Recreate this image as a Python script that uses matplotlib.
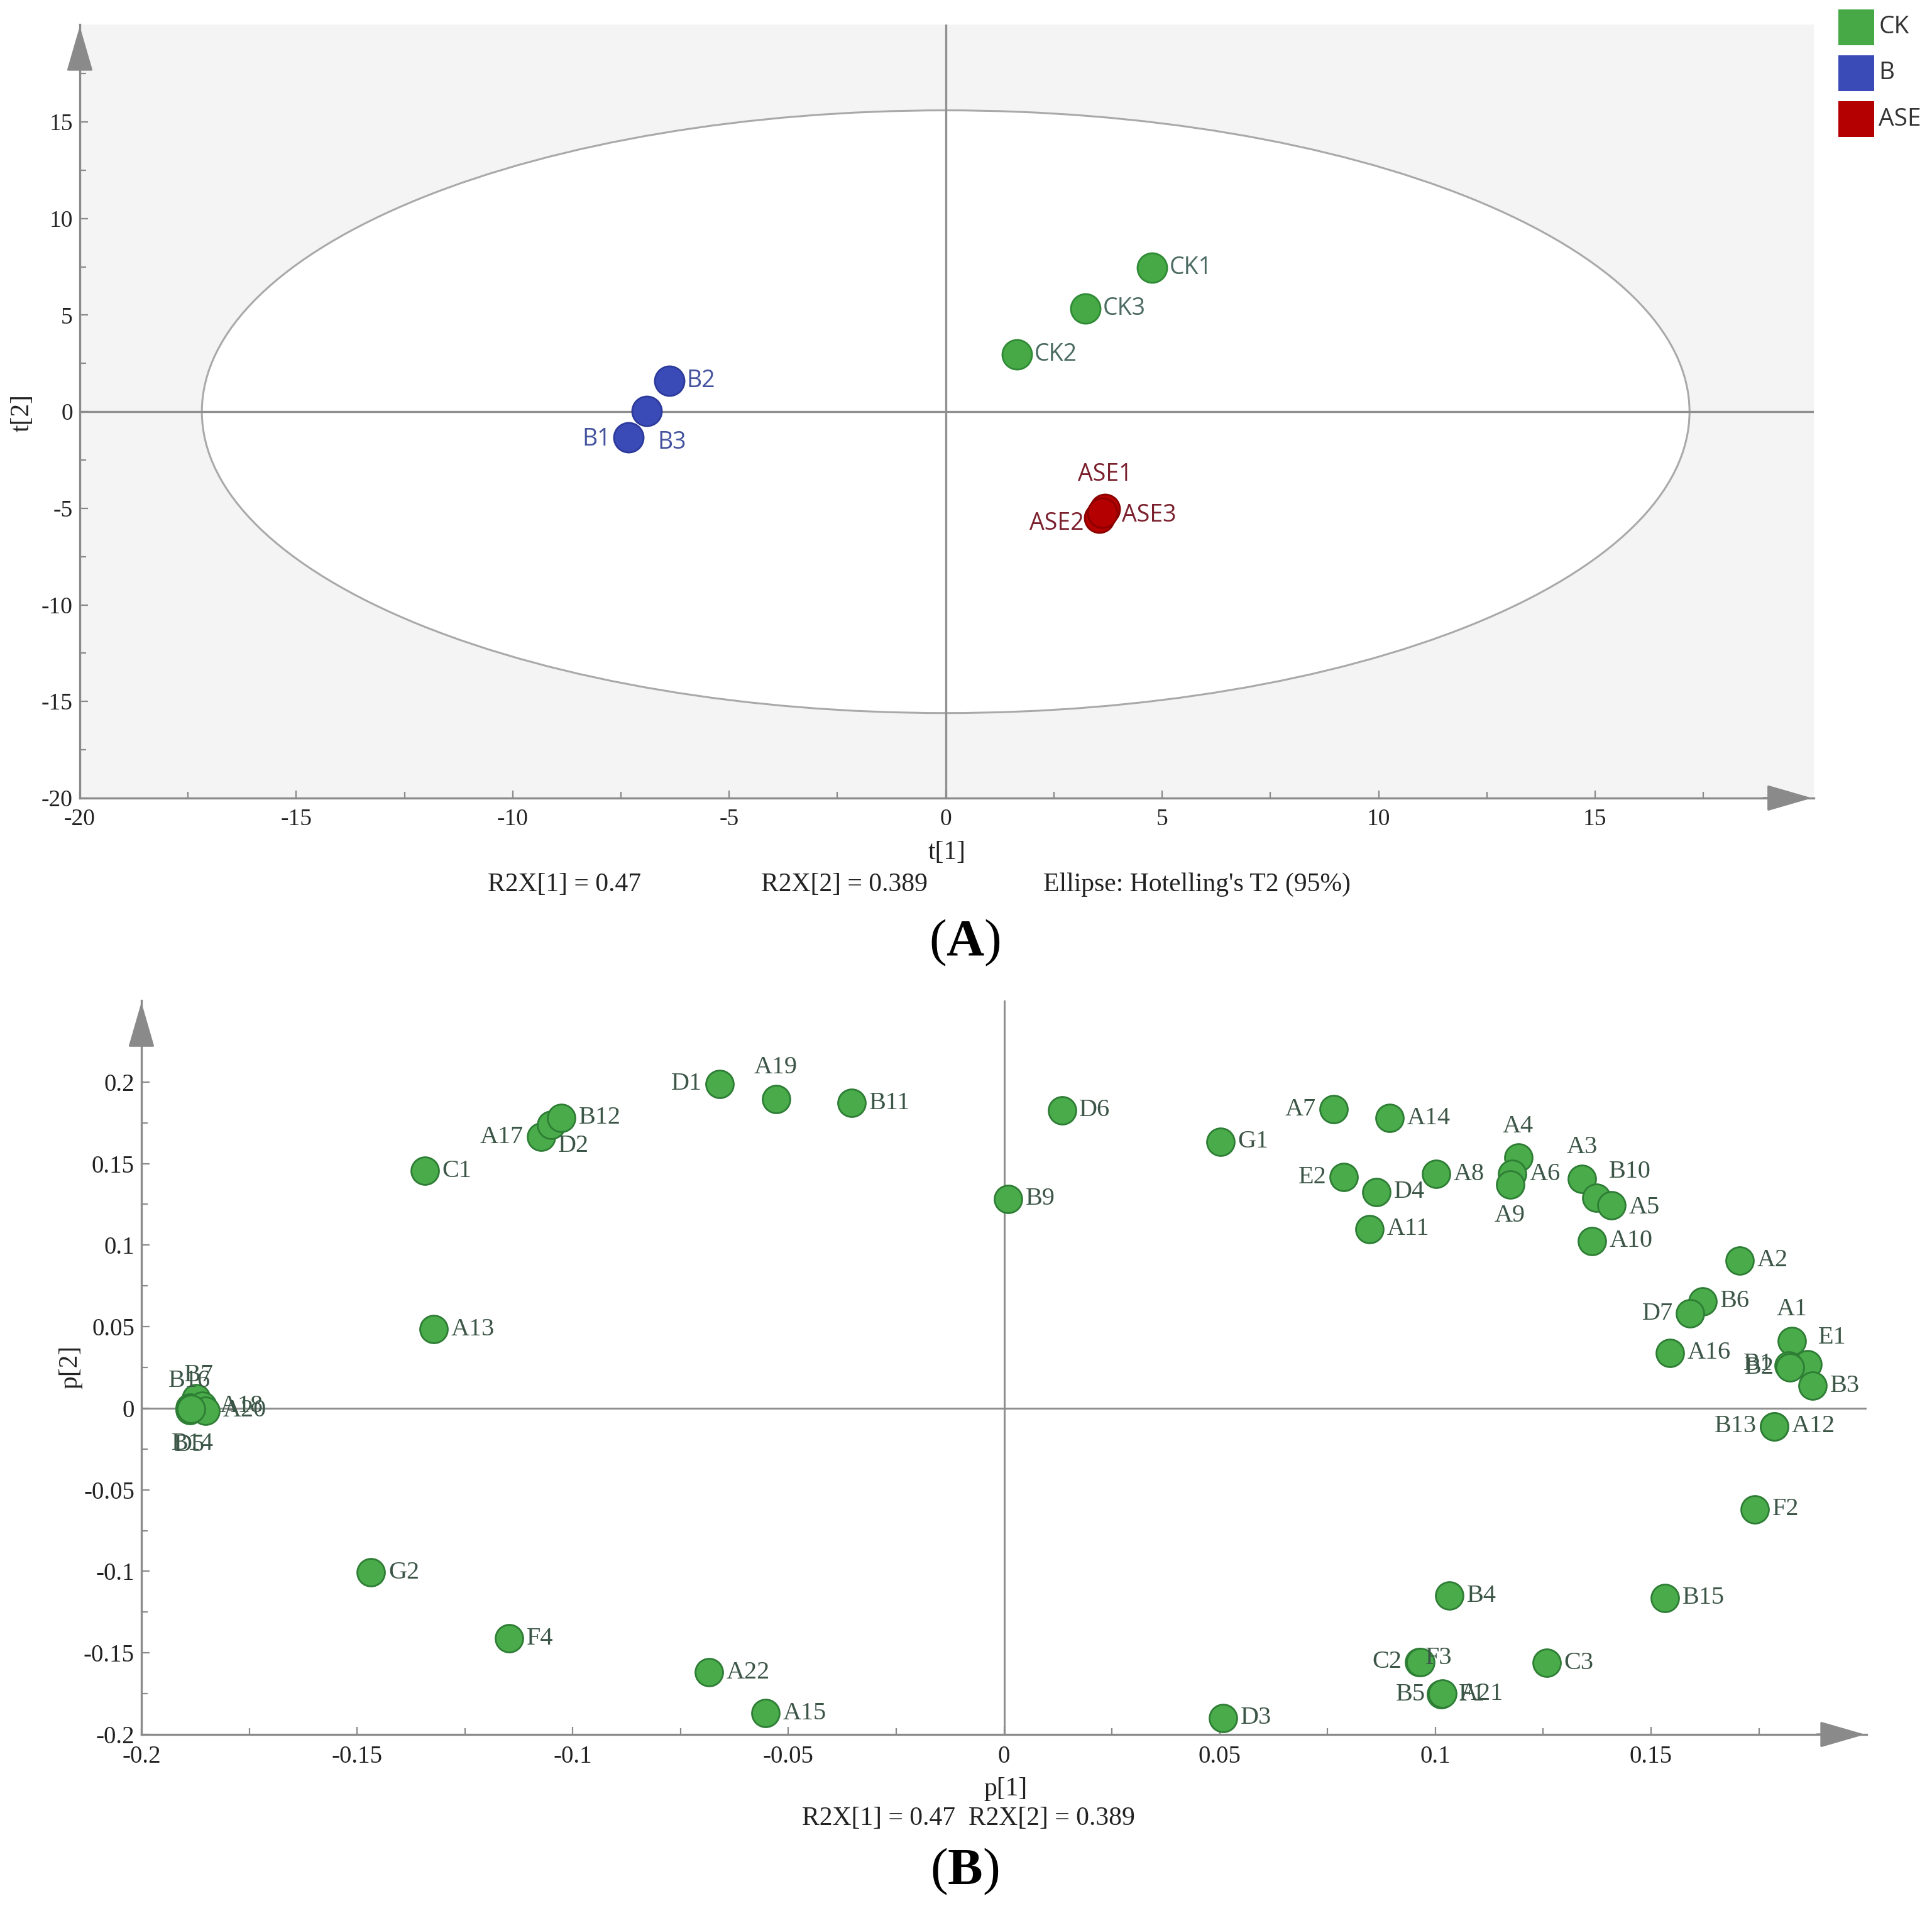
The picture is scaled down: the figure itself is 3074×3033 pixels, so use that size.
import numpy as np
import matplotlib
matplotlib.use("Agg")
import matplotlib.pyplot as plt
from matplotlib.patches import Ellipse, Rectangle
from matplotlib.ticker import FuncFormatter

plt.rcParams['axes.unicode_minus'] = False
plt.rcParams['mathtext.fontset'] = 'custom'
plt.rcParams['mathtext.rm'] = 'Liberation Serif'
plt.rcParams['mathtext.bf'] = 'Liberation Serif:bold'

# ---------------- data: panel A (scores) ----------------
score_names = ["CK1", "CK2", "CK3", "B1", "B2", "B3", "ASE1", "ASE2", "ASE3"]
score_group = ["CK", "CK", "CK", "B", "B", "B", "ASE", "ASE", "ASE"]
t1 = [4.77, 1.65, 3.22, -7.33, -6.39, -6.90, 3.68, 3.54, 3.62]
t2 = [7.46, 2.98, 5.35, -1.34, 1.59, 0.04, -5.04, -5.50, -5.24]
groups = ["CK", "B", "ASE"]
ellipse_semi_axes = [17.18, 15.6]
r2x = [0.47, 0.389]

# ---------------- data: panel B (loadings) ----------------
loading_names = ["D1", "A19", "B11", "D6", "B9", "G1", "A7", "A14", "E2", "D4",
                 "A8", "A11", "A4", "A6", "A9", "A3", "B10", "A5", "A10", "A2",
                 "B6", "D7", "A16", "A1", "E1", "B1", "B2", "B3", "B13", "A12",
                 "F2", "B15", "B4", "C3", "C2", "F3", "B5", "F1", "A21", "D3",
                 "A15", "A22", "F4", "G2", "C1", "A13", "A17", "D2", "B12",
                 "B7", "B16", "A18", "A20", "D5", "B14"]
p1 = [-0.0660, -0.0529, -0.0354, 0.0134, 0.0010, 0.0502, 0.0764, 0.0894, 0.0788, 0.0864,
      0.1002, 0.0847, 0.1192, 0.1178, 0.1173, 0.1340, 0.1374, 0.1408, 0.1363, 0.1706,
      0.1620, 0.1591, 0.1544, 0.1826, 0.1863, 0.1819, 0.1822, 0.1874, 0.1786, 0.1786,
      0.1741, 0.1532, 0.1032, 0.1258, 0.0962, 0.0965, 0.1013, 0.1013, 0.1016, 0.0508,
      -0.0553, -0.0684, -0.1147, -0.1468, -0.1343, -0.1322, -0.1074, -0.1050, -0.1026,
      -0.1873, -0.1888, -0.1859, -0.1851, -0.1888, -0.1885]
p2 = [0.1988, 0.1897, 0.1871, 0.1826, 0.1283, 0.1634, 0.1833, 0.1779, 0.1417, 0.1326,
      0.1435, 0.1098, 0.1536, 0.1435, 0.1373, 0.1406, 0.1290, 0.1243, 0.1025, 0.0906,
      0.0656, 0.0580, 0.0340, 0.0413, 0.0268, 0.0262, 0.0252, 0.0138, -0.0112, -0.0112,
      -0.0620, -0.1163, -0.1149, -0.1562, -0.1555, -0.1555, -0.1755, -0.1755, -0.1750, -0.1899,
      -0.1870, -0.1620, -0.1412, -0.1007, 0.1455, 0.0484, 0.1664, 0.1737, 0.1780,
      0.0062, 0.0005, 0.0015, -0.0015, -0.0010, -0.0005]

# ---------------- styles ----------------
group_colors = {"CK": "#46a946", "B": "#3a4bb8", "ASE": "#b40000"}
group_edges = {"CK": "#2f8a35", "B": "#2c3a9a", "ASE": "#8a0000"}
group_text = {"CK": "#4a6a62", "B": "#43539e", "ASE": "#7a1f2c"}
axis_gray = "#8a8a8a"
serif = "Liberation Serif"
sans = "Open Sans"

# label offsets (points): (dx, dy, ha)
R = (20, 0, "left"); L = (-20, 0, "right"); T = (0, 36, "center"); Bm = (0, -36, "center")
place_A = {"CK1": R, "CK2": R, "CK3": R, "B2": R, "B1": (-20, -2, "right"),
           "B3": (12, -36, "left"), "ASE1": (0, 40, "center"), "ASE2": (-17, -6, "right"),
           "ASE3": (22, -3, "left")}
place_B = {"D1": L, "A19": T, "A7": L, "E2": L, "A4": T, "A9": Bm, "A3": T,
           "B10": (14, 30, "left"), "D7": L, "A1": T, "E1": (12, 31, "left"),
           "B1": (-18, 2, "right"), "B2": (-18, -1, "right"), "B13": L, "C2": L,
           "F3": (6, 4, "left"), "B5": (-18, 0, "right"), "A17": L,
           "D2": (8, -24, "left"), "B7": (3, 26, "center"), "B16": (0, 30, "center"),
           "D5": (0, -40, "center"), "B14": (2, -40, "center"), "A5": (20, -2, "left")}

W, H = 3074, 3033
fig = plt.figure(figsize=(W / 100, H / 100), dpi=100)


def style_axes(ax):
    for s in ["top", "right"]:
        ax.spines[s].set_visible(False)
    for s in ["left", "bottom"]:
        ax.spines[s].set_color(axis_gray)
        ax.spines[s].set_linewidth(2.4)
    ax.tick_params(which="both", direction="in", color=axis_gray, width=1.6)
    ax.tick_params(which="major", length=9)
    ax.tick_params(which="minor", length=7)
    ax.tick_params(axis="x", pad=12)
    ax.tick_params(axis="y", pad=8)
    for lab in ax.get_xticklabels() + ax.get_yticklabels():
        lab.set_fontfamily(serif)
    # arrow heads
    ax.annotate("", xy=(0, 1.0), xytext=(0, 0.955), xycoords="axes fraction",
                arrowprops=dict(arrowstyle="-|>,head_length=1.9,head_width=0.55",
                                color=axis_gray, lw=2.4, mutation_scale=24),
                annotation_clip=False)
    ax.annotate("", xy=(1.0, 0), xytext=(0.97, 0), xycoords="axes fraction",
                arrowprops=dict(arrowstyle="-|>,head_length=1.9,head_width=0.55",
                                color=axis_gray, lw=2.4, mutation_scale=24),
                annotation_clip=False)


def tick_fmt(v, p):
    if abs(v) < 1e-9:
        return "0"
    return "%g" % round(v, 6)


fmt = FuncFormatter(tick_fmt)

# ================= Panel A =================
axA = fig.add_axes([0.0413, 0.5813, 0.8975, 0.4059])
axA.set_facecolor("#f4f4f4")
axA.set_xlim(-20, 20.05)
axA.set_ylim(-20, 20.05)
axA.add_patch(Ellipse((0, 0), 2 * ellipse_semi_axes[0], 2 * ellipse_semi_axes[1],
                      facecolor="white", edgecolor="#a9a9a9", lw=2.2, zorder=0.5))
axA.axhline(0, color="#8f8f8f", lw=2.4, zorder=1)
axA.axvline(0, color="#8f8f8f", lw=2.4, zorder=1)
axA.set_xticks(np.arange(-20, 16, 5))
axA.set_yticks(np.arange(-20, 16, 5))
axA.set_xticks(np.arange(-20, 20, 2.5), minor=True)
axA.set_yticks(np.arange(-20, 20, 2.5), minor=True)
axA.xaxis.set_major_formatter(fmt)
axA.yaxis.set_major_formatter(fmt)
axA.tick_params(labelsize=27, labelcolor="#222222")
style_axes(axA)

for g in groups:
    idx = [i for i, gg in enumerate(score_group) if gg == g]
    axA.scatter([t1[i] for i in idx], [t2[i] for i in idx], s=1150,
                color=group_colors[g], edgecolor=group_edges[g], linewidth=2.0, zorder=3)
for i, n in enumerate(score_names):
    dx, dy, ha = place_A.get(n, R)
    axA.annotate(n, (t1[i], t2[i]), xytext=(dx, dy), textcoords="offset points",
                 ha=ha, va="center", fontsize=27, family=sans,
                 color=group_text[score_group[i]], zorder=4)

fig.text(0.490, 0.5526, "t[1]", ha="center", va="center", fontsize=30, family=serif, color="#222222")
fig.text(0.0114, 0.7834, "t[2]", ha="center", va="center", fontsize=30, family=serif,
         color="#222222", rotation=90)
fig.text(0.2921, 0.5358, "R2X[1] = %g" % r2x[0], ha="center", va="center", fontsize=30,
         family=serif, color="#222222")
fig.text(0.4369, 0.5358, "R2X[2] = %g" % r2x[1], ha="center", va="center", fontsize=30,
         family=serif, color="#222222")
fig.text(0.6194, 0.5358, "Ellipse: Hotelling's T2 (95%)", ha="center", va="center",
         fontsize=30, family=serif, color="#222222")
fig.text(0.4993, 0.5054, r"($\mathbf{A}$)", ha="center", va="center", fontsize=60,
         family=serif, color="black")

# legend squares
leg_y = [0.9763, 0.9522, 0.9281]
for g, y in zip(groups, leg_y):
    fig.add_artist(Rectangle((0.9515, y), 0.0185, 0.0188, transform=fig.transFigure,
                             facecolor=group_colors[g], edgecolor="none"))
    fig.text(0.9725, y + 0.0094, g, ha="left", va="center", fontsize=28, family=sans,
             color="#333333")

# ================= Panel B =================
axB = fig.add_axes([0.0732, 0.0900, 0.8930, 0.3851])
axB.set_facecolor("white")
axB.set_xlim(-0.2, 0.2)
axB.set_ylim(-0.2, 0.25)
axB.axhline(0, color="#8f8f8f", lw=2.2, zorder=1)
axB.axvline(0, color="#8f8f8f", lw=2.2, zorder=1)
axB.set_xticks(np.round(np.arange(-0.2, 0.151, 0.05), 3))
axB.set_yticks(np.round(np.arange(-0.2, 0.201, 0.05), 3))
axB.set_xticks(np.round(np.arange(-0.2, 0.19, 0.025), 3), minor=True)
axB.set_yticks(np.round(np.arange(-0.2, 0.24, 0.025), 3), minor=True)
axB.xaxis.set_major_formatter(fmt)
axB.yaxis.set_major_formatter(fmt)
axB.tick_params(labelsize=28, labelcolor="#222222")
style_axes(axB)

axB.scatter(p1, p2, s=1000, color="#49ab49", edgecolor="#2e7d35", linewidth=2.0, zorder=3)
for i, n in enumerate(loading_names):
    dx, dy, ha = place_B.get(n, R)
    axB.annotate(n, (p1[i], p2[i]), xytext=(dx, dy), textcoords="offset points",
                 ha=ha, va="center", fontsize=29, family=serif, color="#3b5546", zorder=4)

fig.text(0.5205, 0.0613, "p[1]", ha="center", va="center", fontsize=30, family=serif, color="#222222")
fig.text(0.0364, 0.2826, "p[2]", ha="center", va="center", fontsize=30, family=serif,
         color="#222222", rotation=90)
fig.text(0.5013, 0.0458, "R2X[1] = %g  R2X[2] = %g" % (r2x[0], r2x[1]), ha="center",
         va="center", fontsize=30, family=serif, color="#222222")
fig.text(0.4993, 0.0181, r"($\mathbf{B}$)", ha="center", va="center", fontsize=60,
         family=serif, color="black")

fig.savefig("out.png", dpi=100, facecolor="white")
